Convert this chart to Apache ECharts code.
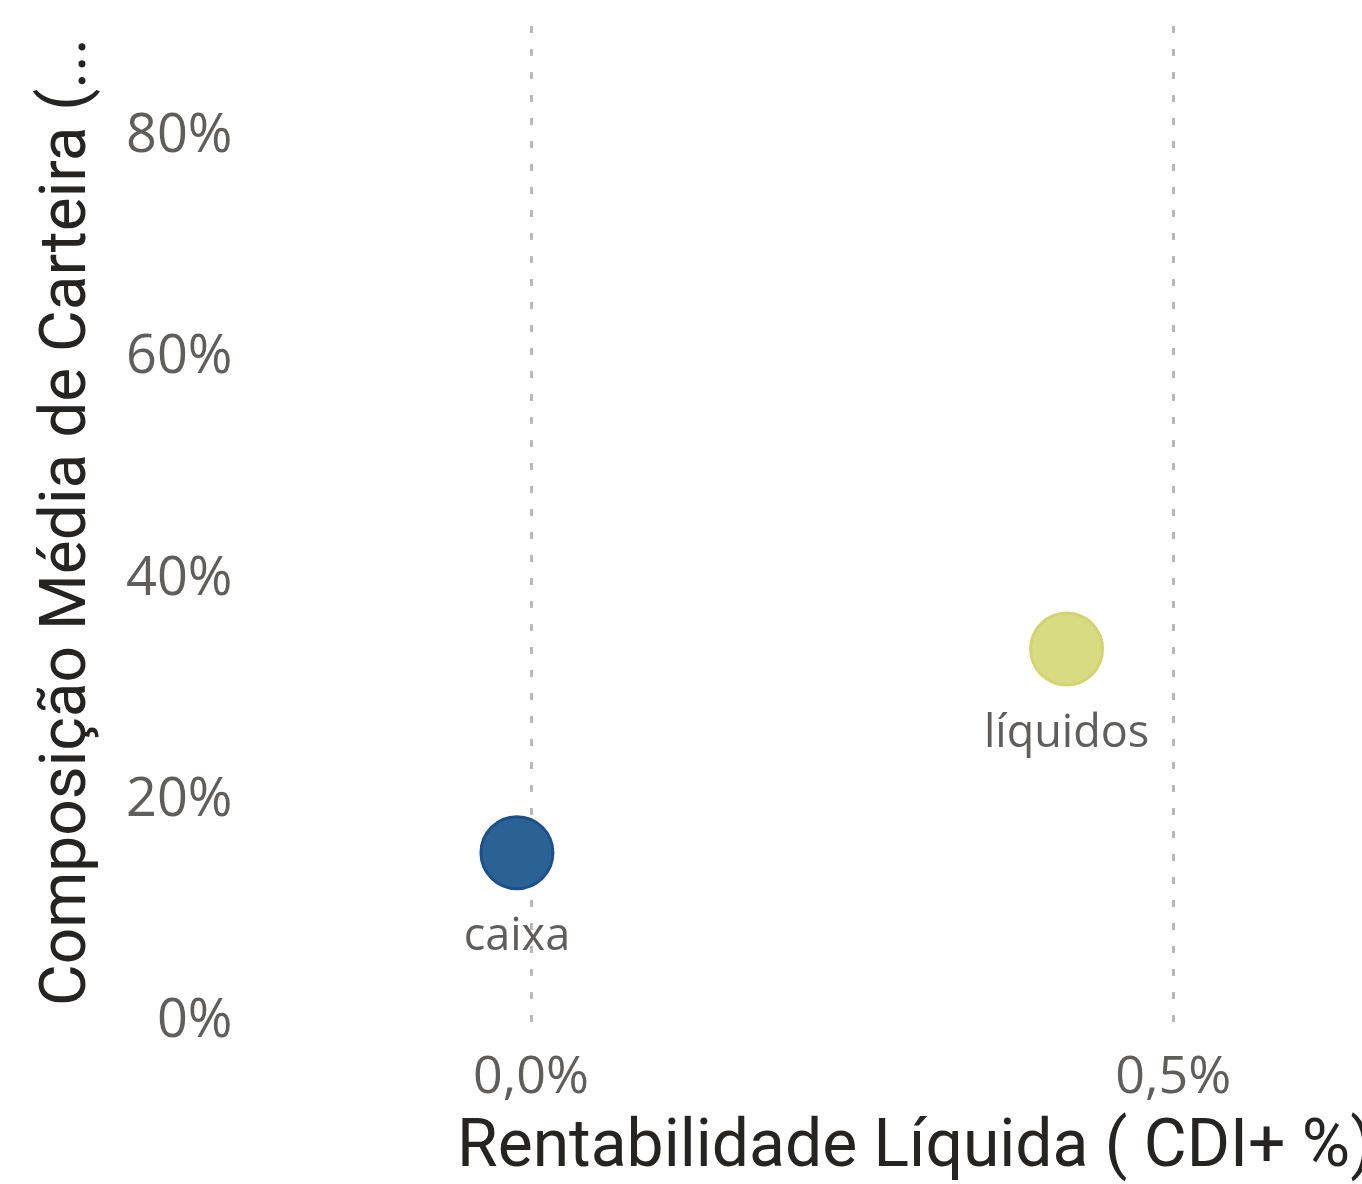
<!DOCTYPE html>
<html><head><meta charset="utf-8">
<script src="https://cdn.jsdelivr.net/npm/echarts@6/dist/echarts.min.js"></script>
<style>html,body{margin:0;padding:0;background:#fff}#c{width:1362px;height:1184px}</style>
</head><body><div id="c"></div>
<script>
const names = ['caixa', 'líquidos'];
const rentabilidade = [-0.011, 0.417];
const composicao = [15.3, 33.7];
const colors = ['#2c6196', '#d9db82'];
const borders = ['#1d4f8c', '#d2d474'];
const xTicks = [0, 0.5];
const yTicks = [0, 20, 40, 60, 80];

const chart = echarts.init(document.getElementById('c'));
chart.setOption({
  animation: false,
  grid: {left: 248.5, right: 9, top: 26, bottom: 162},
  xAxis: {
    type: 'value', min: -0.22, max: 0.64,
    axisLine: {show: false},
    axisTick: {show: false, customValues: xTicks},
    axisLabel: {customValues: xTicks, margin: 30, color: '#605e5c', fontSize: 52, fontFamily: 'Open Sans',
      formatter: v => v.toFixed(1).replace('.', ',') + '%'},
    splitLine: {show: true, lineStyle: {color: '#b8b8b8', width: 3, type: [7, 16]}}
  },
  yAxis: {
    type: 'value', min: 0, max: 90,
    axisLine: {show: false},
    axisTick: {show: false, customValues: yTicks},
    axisLabel: {customValues: yTicks, margin: 16, color: '#605e5c', fontSize: 54, fontFamily: 'Open Sans',
      formatter: v => v + '%'},
    splitLine: {show: false}
  },
  graphic: [
    {type: 'text', left: 457, top: 1116, style: {text: 'Rentabilidade Líquida ( CDI+ %)', fill: '#252423', font: '400 66px Roboto'}},
    {type: 'text', x: 37, y: 1006, rotation: Math.PI / 2, style: {text: 'Composição Média de Carteira (...', fill: '#252423', font: '400 64px Roboto', textAlign: 'left', textVerticalAlign: 'top'}}
  ],
  series: [{
    type: 'scatter', symbolSize: 72,
    data: names.map((n, i) => ({
      name: n, value: [rentabilidade[i], composicao[i]],
      itemStyle: {color: colors[i], borderColor: borders[i], borderWidth: 3, opacity: 1}
    })),
    label: {show: true, position: 'bottom', distance: 25, formatter: p => p.name, color: '#605e5c', fontSize: 45, fontFamily: 'Open Sans'}
  }]
});
</script></body></html>
